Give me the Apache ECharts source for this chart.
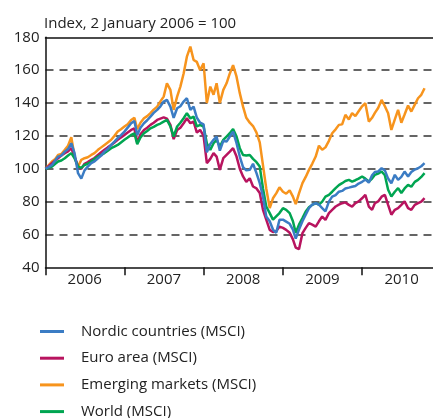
<!DOCTYPE html>
<html>
<head>
<meta charset="utf-8">
<title>MSCI indices</title>
<script src="https://cdn.jsdelivr.net/npm/echarts@6/dist/echarts.min.js"></script>
<style>
    html, body { margin: 0; padding: 0; background: #fff; }
    #chart { width: 433px; height: 418px; }
</style>
</head>
<body>
<div id="chart"></div>
<script>
// half-monthly observations, 2 Jan 2006 = 100
var dates = [
    '2006-01-02', '2006-01-16', '2006-02-01', '2006-02-16', '2006-03-01', '2006-03-16', '2006-04-01', '2006-04-16', '2006-05-01', '2006-05-16', '2006-06-01', '2006-06-16',
    '2006-07-01', '2006-07-16', '2006-08-01', '2006-08-16', '2006-09-01', '2006-09-16', '2006-10-01', '2006-10-16', '2006-11-01', '2006-11-16', '2006-12-01', '2006-12-16',
    '2007-01-01', '2007-01-16', '2007-02-01', '2007-02-16', '2007-03-01', '2007-03-16', '2007-04-01', '2007-04-16', '2007-05-01', '2007-05-16', '2007-06-01', '2007-06-16',
    '2007-07-01', '2007-07-16', '2007-08-01', '2007-08-16', '2007-09-01', '2007-09-16', '2007-10-01', '2007-10-16', '2007-11-01', '2007-11-16', '2007-12-01', '2007-12-16',
    '2008-01-01', '2008-01-16', '2008-02-01', '2008-02-16', '2008-03-01', '2008-03-16', '2008-04-01', '2008-04-16', '2008-05-01', '2008-05-16', '2008-06-01', '2008-06-16',
    '2008-07-01', '2008-07-16', '2008-08-01', '2008-08-16', '2008-09-01', '2008-09-16', '2008-10-01', '2008-10-16', '2008-11-01', '2008-11-16', '2008-12-01', '2008-12-16',
    '2009-01-01', '2009-01-16', '2009-02-01', '2009-02-16', '2009-03-01', '2009-03-16', '2009-04-01', '2009-04-16', '2009-05-01', '2009-05-16', '2009-06-01', '2009-06-16',
    '2009-07-01', '2009-07-16', '2009-08-01', '2009-08-16', '2009-09-01', '2009-09-16', '2009-10-01', '2009-10-16', '2009-11-01', '2009-11-16', '2009-12-01', '2009-12-16',
    '2010-01-01', '2010-01-16', '2010-02-01', '2010-02-16', '2010-03-01', '2010-03-16', '2010-04-01', '2010-04-16', '2010-05-01', '2010-05-16', '2010-06-01', '2010-06-16',
    '2010-07-01', '2010-07-16', '2010-08-01', '2010-08-16', '2010-09-01', '2010-09-16', '2010-10-01', '2010-10-16'
];

var nordic = [
    100, 101, 102.3, 105, 107.4, 108, 110.4, 112, 115.5, 109.5, 97.3, 94, 99, 101.3, 103.4, 104.5, 106.4, 108, 110.4, 112, 114.5, 116.5, 118.6, 120.5,
    122.6, 125, 127.7, 129, 120.5, 125, 127.7, 129.5, 131.7, 134, 135.8, 138, 140.9, 141.9, 137.8, 131, 136.8, 138, 140.9, 142.9, 135.8, 137.8, 131, 128,
    127, 110, 115, 117.6, 119.6, 111, 117, 116.5, 119.6, 122.6, 115.5, 107.4, 101, 99, 99.3, 103, 97.3, 91.2, 83, 70.9, 68, 63, 61, 68.9,
    69, 67.8, 66.5, 63, 57.5, 63, 68, 72, 76, 78.1, 79, 78.1, 76, 74, 80, 83, 84, 86, 86.5, 88, 88.5, 89, 89.5, 91,
    92, 93.5, 91.5, 96, 98, 98.3, 100.3, 99, 94, 91.2, 96.3, 93.2, 95, 98.3, 95.3, 98, 99.5, 100.3, 101.5, 103.4
];

var euro = [
    100, 101.5, 103.4, 105, 106.4, 108, 109.5, 110.5, 112.5, 107.4, 101.3, 100, 103, 104, 105.4, 106.5, 108.4, 110, 111.5, 113, 114.5, 116, 117.6, 119,
    120.6, 122, 123.6, 124.5, 116, 121, 123.6, 125, 126.7, 128, 129.7, 130.5, 131.3, 130.5, 126.7, 118, 123.6, 125, 127.7, 130.7, 127.7, 128.7, 122, 123.6,
    120, 103.4, 106, 109.5, 107.4, 99.3, 106.4, 108.4, 110.4, 112.5, 107.4, 100, 95.3, 92, 94.2, 89.2, 88, 85.2, 75, 69, 62.8, 61.5, 62, 64.8,
    64, 62.8, 61, 57, 52, 51, 60.8, 64, 66.9, 66, 64.8, 68, 70.9, 68.9, 73, 75, 77, 78.1, 79, 79.5, 78, 77, 79, 80.1,
    82, 84.1, 77, 75, 79, 80.1, 83, 84.1, 78, 72, 75, 76, 78, 80.1, 76, 75, 78, 79.1, 80, 82.1
];

var emerging = [
    100, 102, 104.4, 106, 108.4, 109, 111.5, 114, 119.2, 107.4, 101.3, 105.4, 106.4, 107, 108.4, 109.5, 111.5, 113, 114.5, 116, 117.6, 120, 122.6, 124,
    125.7, 127, 129.7, 131, 124, 128, 130.7, 132, 133.8, 136, 137.8, 141, 143.9, 152, 148, 135.8, 143.9, 150, 158, 168.2, 174.3, 166.2, 165, 160,
    164.2, 140, 150, 145, 152, 140, 148, 152, 158, 163, 156, 146, 137.8, 131, 128, 126, 122, 116, 102, 88, 76, 82, 85, 88.7,
    86, 84.8, 86.8, 83, 78.5, 85, 91.2, 95, 99.3, 103, 107.4, 114, 111.5, 113, 117, 121.6, 124, 126.7, 127, 132.8, 130, 133.8, 132, 135,
    138, 139.9, 128.7, 131, 134, 137, 141.9, 138, 133.8, 123.6, 130, 135.8, 128, 133, 138.5, 134.8, 139, 142.9, 145, 149
];

var world = [
    100, 100.5, 101.3, 103, 104.4, 105, 106.4, 108, 109.5, 106.4, 101.3, 100.5, 102.3, 103, 104.4, 106, 107.4, 108.5, 109.5, 111, 112.5, 113.5, 114.5, 116,
    117.6, 119, 120.6, 121.5, 115, 119, 121.6, 123, 124.6, 125.5, 126.7, 127.5, 128.7, 129.7, 125.7, 119.6, 125.7, 128, 130.7, 133.8, 130.7, 131.7, 125.7, 126.7,
    125.7, 115.5, 111.5, 115.5, 117.6, 113.5, 117.6, 119.6, 121.6, 124.2, 119.6, 112.5, 108.4, 108, 108.4, 106, 104, 101.3, 88, 77, 73, 69, 71, 73,
    76, 75, 73, 68, 61, 66, 70, 74, 76.5, 78, 79.1, 78.1, 80, 83, 84.1, 86, 88.2, 90, 91.2, 92.5, 93.2, 92.2, 93, 94,
    95.3, 94, 92.2, 94, 96.3, 97, 98.3, 96, 87.2, 83.1, 86, 88.2, 85.2, 88, 90.2, 89, 92, 93.2, 95, 97.3
];

var seriesNames = ['Nordic countries (MSCI)', 'Euro area (MSCI)', 'Emerging markets (MSCI)', 'World (MSCI)'];
var years = [2006, 2007, 2008, 2009, 2010];
var yTicks = [40, 60, 80, 100, 120, 140, 160, 180];

(function() {
    var myChart = echarts.init(document.getElementById('chart'));
    var font = '"Open Sans", "DejaVu Sans", sans-serif';

    function ts(s) {
        var p = s.split('-');
        return new Date(+p[0], +p[1] - 1, +p[2]).getTime();
    }

    var xMin = ts('2006-01-02');
    var xMax = ts('2010-11-24');

    // year boundaries for ticks, mid-year for labels
    var tickVals = years.map(function(y) { return ts(y + '-01-01'); });
    tickVals[0] = xMin;
    var labelVals = years.map(function(y) { return ts(y + '-07-02'); });

    function pairs(vals) {
        return dates.map(function(d, i) { return [ts(d), vals[i]]; });
    }

    function line(name, vals, color, z) {
        return {
            name: name,
            type: 'line',
            data: pairs(vals),
            showSymbol: false,
            symbol: 'none',
            z: z,
            lineStyle: { color: color, width: 2.5 },
            itemStyle: { color: color }
        };
    }

    var option = {
        animation: false,
        title: {
            text: 'Index, 2 January 2006 = 100',
            left: 39,
            top: 11,
            textStyle: { fontFamily: font, fontSize: 15, fontWeight: 'normal', color: '#222' }
        },
        legend: {
            orient: 'vertical',
            left: 35,
            top: 317.5,
            height: 120,
            icon: 'rect',
            itemWidth: 24,
            itemHeight: 3,
            itemGap: 8.7,
            data: seriesNames,
            itemStyle: { borderWidth: 0 },
            textStyle: { fontFamily: font, fontSize: 15, color: '#222', lineHeight: 18, padding: [0, 0, 0, 12] }
        },
        grid: {
            left: 45.5,
            right: 0,
            top: 37.3,
            bottom: 150.7,
            containLabel: false
        },
        xAxis: [{
            type: 'value',
            min: xMin,
            max: xMax,
            axisLine: { show: true, lineStyle: { color: '#111', width: 1.5 } },
            axisTick: { show: true, customValues: tickVals, length: 8, lineStyle: { color: '#111', width: 1.5 } },
            axisLabel: {
                customValues: labelVals,
                margin: 5,
                fontFamily: font,
                fontSize: 15,
                color: '#222',
                formatter: function(v) { return String(new Date(v).getFullYear()); }
            },
            splitLine: { show: false }
        }, {
            // top frame line
            type: 'value',
            position: 'top',
            min: xMin,
            max: xMax,
            axisLine: { show: true, lineStyle: { color: '#111', width: 1.5 } },
            axisTick: { show: false },
            axisLabel: { show: false },
            splitLine: { show: false }
        }],
        yAxis: {
            type: 'value',
            min: yTicks[0],
            max: yTicks[yTicks.length - 1],
            interval: 20,
            axisLine: { show: true, lineStyle: { color: '#111', width: 1.5 } },
            axisTick: { show: false },
            axisLabel: { margin: 6, fontFamily: font, fontSize: 15, color: '#222' },
            splitLine: {
                show: true,
                showMinLine: false,
                showMaxLine: false,
                lineStyle: { color: '#333', width: 1.5, type: [8, 6] }
            }
        },
        series: [
            line(seriesNames[2], emerging, '#f7941d', 2),
            line(seriesNames[1], euro, '#b8145f', 3),
            line(seriesNames[3], world, '#00a551', 4),
            line(seriesNames[0], nordic, '#3b7cc4', 5)
        ]
    };

    myChart.setOption(option);
})();
</script>
</body>
</html>
